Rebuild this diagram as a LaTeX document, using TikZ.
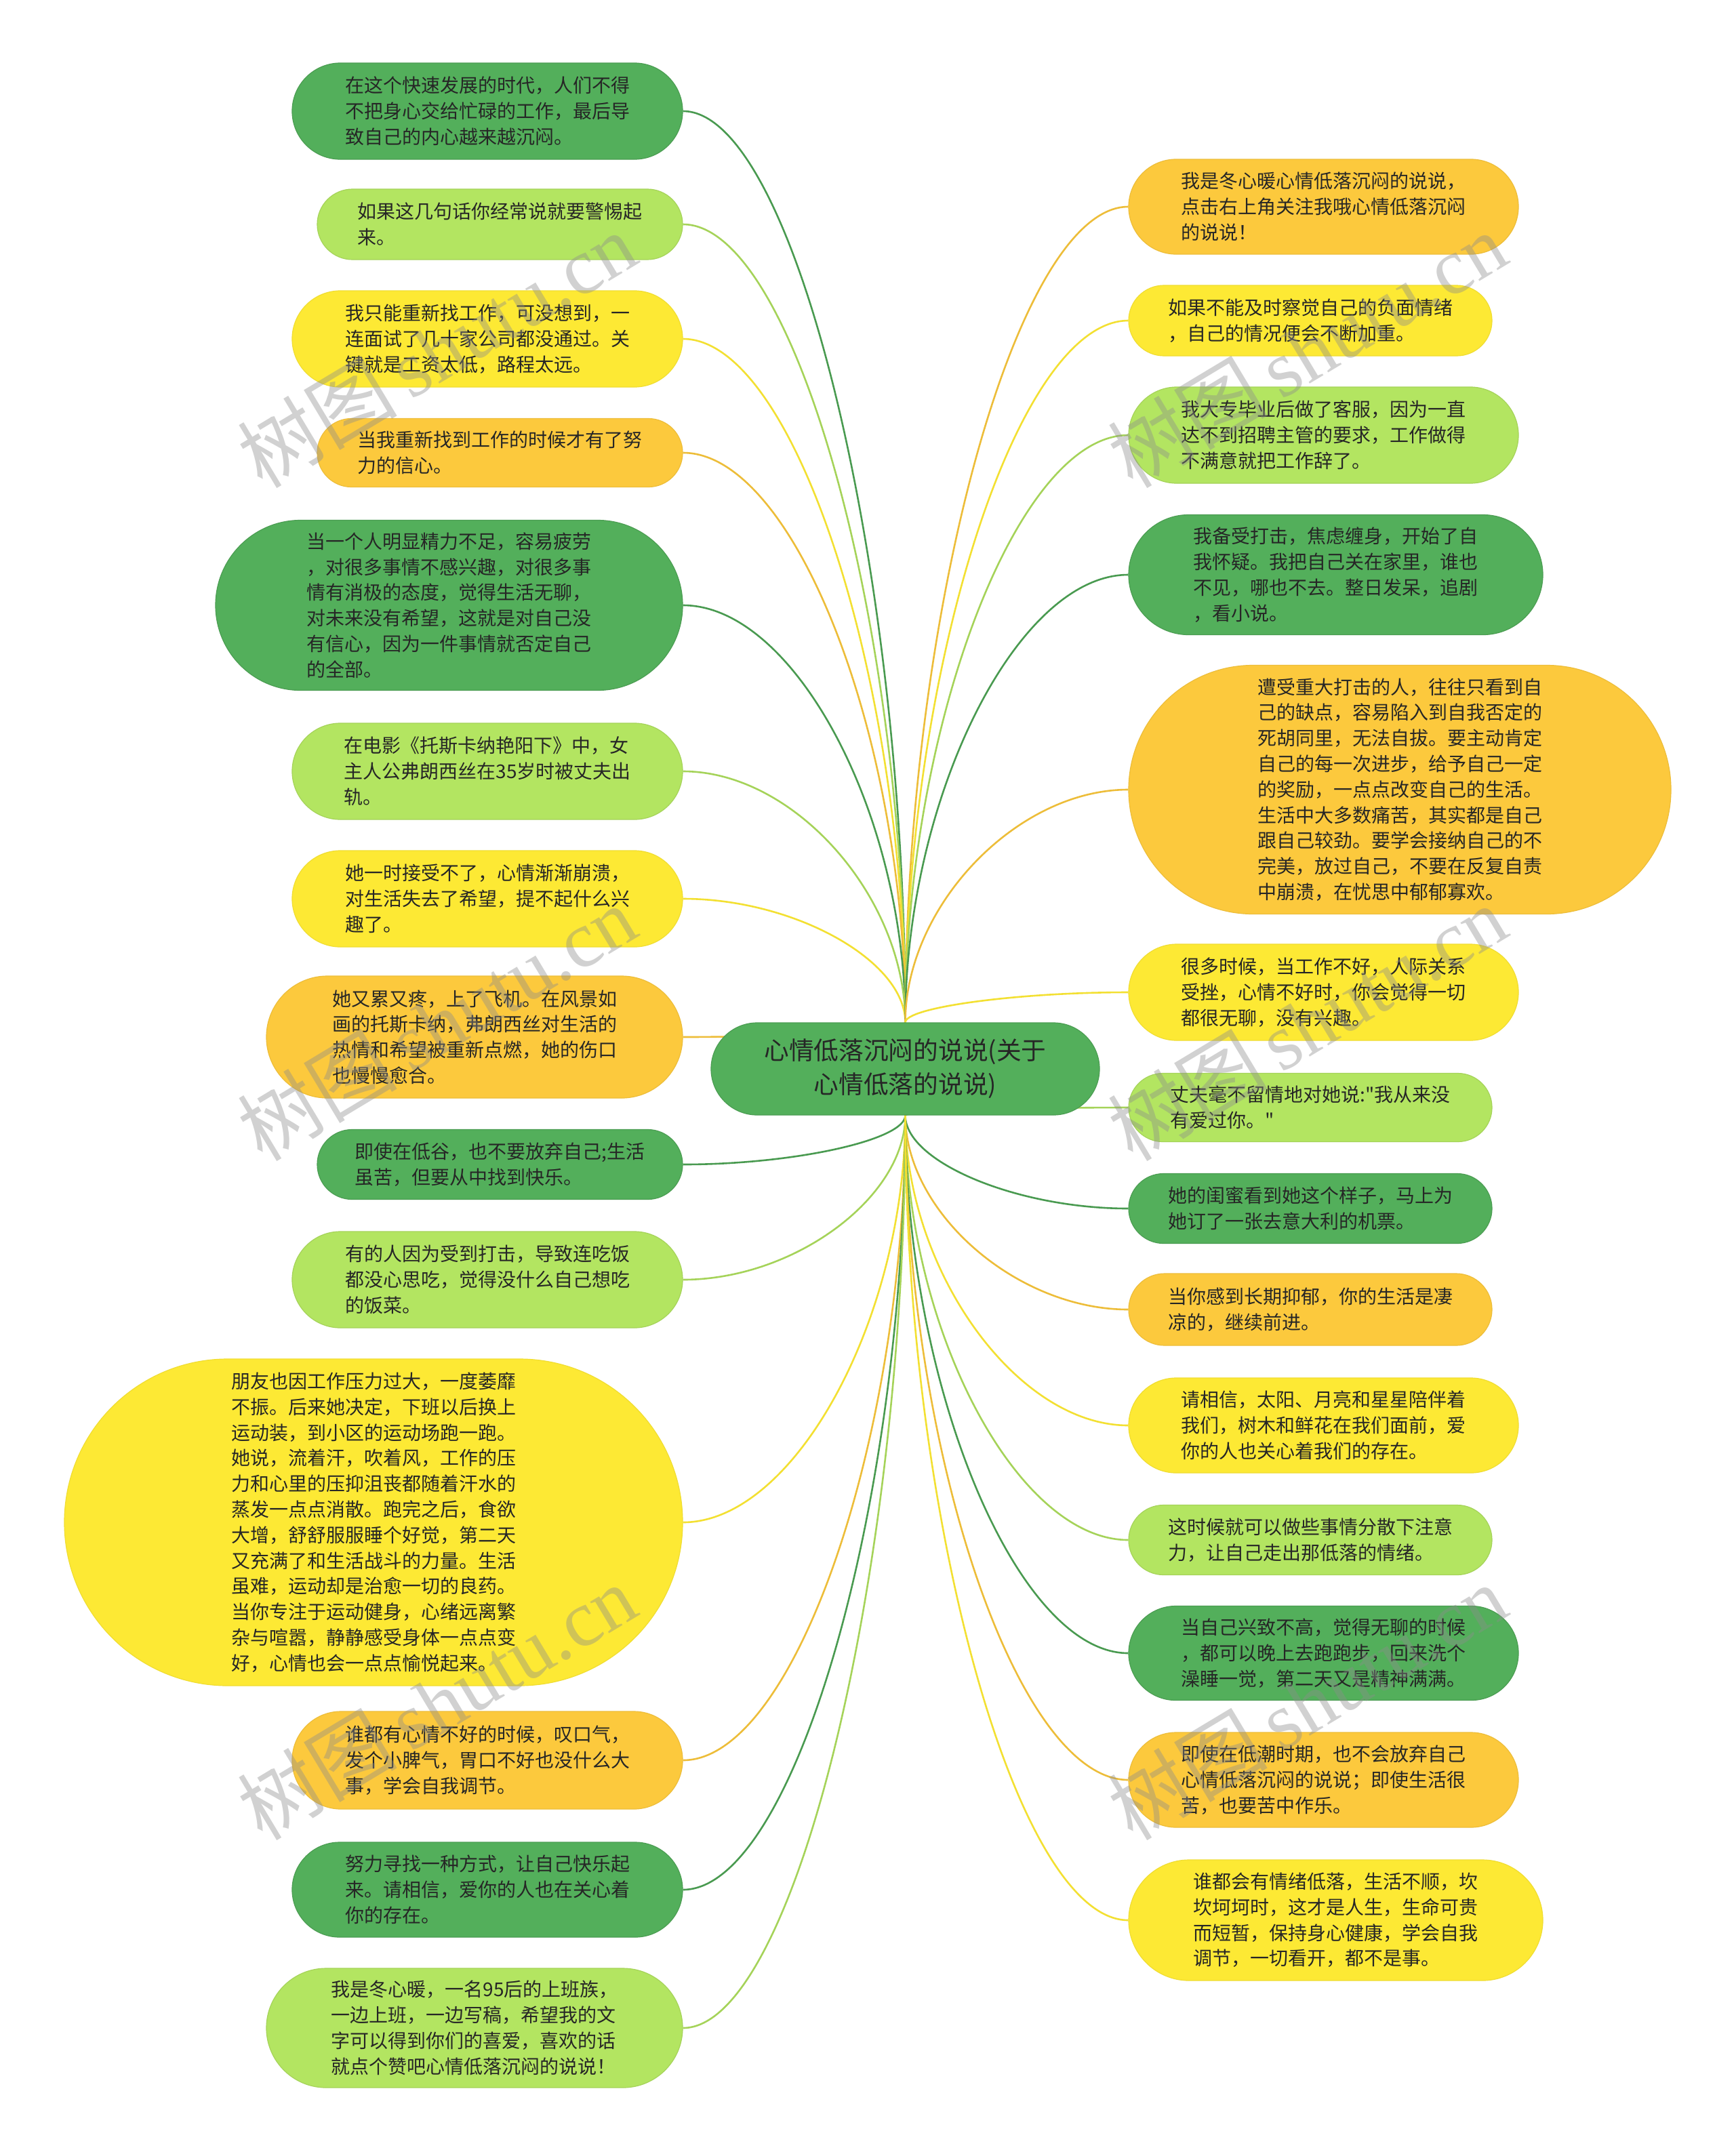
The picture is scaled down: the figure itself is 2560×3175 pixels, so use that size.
\documentclass[tikz,border=0pt]{standalone}
\usepackage{fontspec}
\newfontfamily\cjk{Noto Sans CJK SC}
\setmainfont{Noto Sans CJK SC}
\newfontfamily\wmserif{Liberation Serif}
\usetikzlibrary{shapes.misc,calc}
\definecolor{cDG}{RGB}{83,175,91}
\definecolor{cLG}{RGB}{179,229,97}
\definecolor{cYE}{RGB}{253,233,52}
\definecolor{cOR}{RGB}{252,201,61}
\definecolor{txt}{RGB}{38,38,38}
\definecolor{wmgray}{RGB}{140,140,140}
\pgfdeclarelayer{bg}
\pgfdeclarelayer{fg}
\pgfsetlayers{bg,main,fg}
\newcommand\mmlink[3]{\draw[conn,#3] (#1) .. controls ($(#1)!0.5!(#1|-#2)$) and ($(#2)!0.5!(#2-|#1)$) .. (#2);}
\begin{document}
\begin{tikzpicture}[x=1pt,y=-1pt,
  bub/.style={rounded rectangle, inner sep=0pt, align=left, text=txt,
    font=\cjk\fontsize{28}{37.8}\selectfont, line width=1.2pt},
  dg/.style={bub, fill=cDG, draw=cDG!90!black},
  lg/.style={bub, fill=cLG, draw=cLG!92!black},
  ye/.style={bub, fill=cYE, draw=cYE!95!black},
  or/.style={bub, fill=cOR, draw=cOR!94!black},
  conn/.style={line width=2.6pt},
  lDG/.style={draw=cDG!88!black},
  lLG/.style={draw=cLG!92!black},
  lYE/.style={draw=cYE!96!black},
  lOR/.style={draw=cOR!94!black},
  wm/.style={text=wmgray, opacity=0.4, rotate=31, font=\cjk\fontsize{118}{120}\selectfont, inner sep=0pt}
]
\useasboundingbox (0,0) rectangle (2560,3175);

% centre
\node[dg, minimum width=573pt, minimum height=136pt, align=center, font=\cjk\fontsize{36.7}{50}\selectfont] (c) at (1335.5,1577) {心情低落沉闷的说说(关于\\心情低落的说说)};

% left column
\node[dg, minimum width=576pt, minimum height=142pt] (L1) at (719,164) {在这个快速发展的时代，人们不得\\不把身心交给忙碌的工作，最后导\\致自己的内心越来越沉闷。};
\node[lg, minimum width=539pt, minimum height=104pt] (L2) at (737.5,331) {如果这几句话你经常说就要警惕起\\来。};
\node[ye, minimum width=576pt, minimum height=142pt] (L3) at (719,500) {我只能重新找工作，可没想到，一\\连面试了几十家公司都没通过。关\\键就是工资太低，路程太远。};
\node[or, minimum width=539pt, minimum height=101pt] (L4) at (737.5,668) {当我重新找到工作的时候才有了努\\力的信心。};
\node[dg, minimum width=689pt, minimum height=251pt] (L5) at (662.5,893) {当一个人明显精力不足，容易疲劳\\，对很多事情不感兴趣，对很多事\\情有消极的态度，觉得生活无聊，\\对未来没有希望，这就是对自己没\\有信心，因为一件事情就否定自己\\的全部。};
\node[lg, minimum width=576pt, minimum height=142pt] (L6) at (719,1138) {在电影《托斯卡纳艳阳下》中，女\\主人公弗朗西丝在35岁时被丈夫出\\轨。};
\node[ye, minimum width=576pt, minimum height=142pt] (L7) at (719,1326) {她一时接受不了，心情渐渐崩溃，\\对生活失去了希望，提不起什么兴\\趣了。};
\node[or, minimum width=614pt, minimum height=180pt] (L8) at (700,1530) {她又累又疼，上了飞机。在风景如\\画的托斯卡纳，弗朗西丝对生活的\\热情和希望被重新点燃，她的伤口\\也慢慢愈合。};
\node[dg, minimum width=539pt, minimum height=103pt] (L9) at (737.5,1718) {即使在低谷，也不要放弃自己;生活\\虽苦，但要从中找到快乐。};
\node[lg, minimum width=576pt, minimum height=142pt] (L10) at (719,1888) {有的人因为受到打击，导致连吃饭\\都没心思吃，觉得没什么自己想吃\\的饭菜。};
\node[ye, minimum width=912pt, minimum height=482pt] (L11) at (551,2246) {朋友也因工作压力过大，一度萎靡\\不振。后来她决定，下班以后换上\\运动装，到小区的运动场跑一跑。\\她说，流着汗，吹着风，工作的压\\力和心里的压抑沮丧都随着汗水的\\蒸发一点点消散。跑完之后，食欲\\大增，舒舒服服睡个好觉，第二天\\又充满了和生活战斗的力量。生活\\虽难，运动却是治愈一切的良药。\\当你专注于运动健身，心绪远离繁\\杂与喧嚣，静静感受身体一点点变\\好，心情也会一点点愉悦起来。};
\node[or, minimum width=576pt, minimum height=144pt] (L12) at (719,2597) {谁都有心情不好的时候，叹口气，\\发个小脾气，胃口不好也没什么大\\事，学会自我调节。};
\node[dg, minimum width=576pt, minimum height=140pt] (L13) at (719,2788) {努力寻找一种方式，让自己快乐起\\来。请相信，爱你的人也在关心着\\你的存在。};
\node[lg, minimum width=614pt, minimum height=176pt] (L14) at (700,2992) {我是冬心暖，一名95后的上班族，\\一边上班，一边写稿，希望我的文\\字可以得到你们的喜爱，喜欢的话\\就点个赞吧心情低落沉闷的说说！};

% right column
\node[or, minimum width=575pt, minimum height=140pt] (R1) at (1952.5,305) {我是冬心暖心情低落沉闷的说说，\\点击右上角关注我哦心情低落沉闷\\的说说！};
\node[ye, minimum width=536pt, minimum height=104pt] (R2) at (1933,473) {如果不能及时察觉自己的负面情绪\\，自己的情况便会不断加重。};
\node[lg, minimum width=575pt, minimum height=142pt] (R3) at (1952.5,642) {我大专毕业后做了客服，因为一直\\达不到招聘主管的要求，工作做得\\不满意就把工作辞了。};
\node[dg, minimum width=611pt, minimum height=177pt] (R4) at (1970.5,848) {我备受打击，焦虑缠身，开始了自\\我怀疑。我把自己关在家里，谁也\\不见，哪也不去。整日发呆，追剧\\，看小说。};
\node[or, minimum width=800pt, minimum height=367pt] (R5) at (2065,1165) {遭受重大打击的人，往往只看到自\\己的缺点，容易陷入到自我否定的\\死胡同里，无法自拔。要主动肯定\\自己的每一次进步，给予自己一定\\的奖励，一点点改变自己的生活。\\生活中大多数痛苦，其实都是自己\\跟自己较劲。要学会接纳自己的不\\完美，放过自己，不要在反复自责\\中崩溃，在忧思中郁郁寡欢。};
\node[ye, minimum width=575pt, minimum height=142pt] (R6) at (1952.5,1464) {很多时候，当工作不好，人际关系\\受挫，心情不好时，你会觉得一切\\都很无聊，没有兴趣。};
\node[lg, minimum width=536pt, minimum height=101pt] (R7) at (1933,1634) {丈夫毫不留情地对她说:"我从来没\\有爱过你。"};
\node[dg, minimum width=536pt, minimum height=103pt] (R8) at (1933,1783) {她的闺蜜看到她这个样子，马上为\\她订了一张去意大利的机票。};
\node[or, minimum width=536pt, minimum height=106pt] (R9) at (1933,1932) {当你感到长期抑郁，你的生活是凄\\凉的，继续前进。};
\node[ye, minimum width=575pt, minimum height=140pt] (R10) at (1952.5,2103) {请相信，太阳、月亮和星星陪伴着\\我们，树木和鲜花在我们面前，爱\\你的人也关心着我们的存在。};
\node[lg, minimum width=536pt, minimum height=103pt] (R11) at (1933,2272) {这时候就可以做些事情分散下注意\\力，让自己走出那低落的情绪。};
\node[dg, minimum width=575pt, minimum height=139pt] (R12) at (1952.5,2439) {当自己兴致不高，觉得无聊的时候\\，都可以晚上去跑跑步，回来洗个\\澡睡一觉，第二天又是精神满满。};
\node[or, minimum width=575pt, minimum height=140pt] (R13) at (1952.5,2626) {即使在低潮时期，也不会放弃自己\\心情低落沉闷的说说；即使生活很\\苦，也要苦中作乐。};
\node[ye, minimum width=611pt, minimum height=178pt] (R14) at (1970.5,2833) {谁都会有情绪低落，生活不顺，坎\\坎坷坷时，这才是人生，生命可贵\\而短暂，保持身心健康，学会自我\\调节，一切看开，都不是事。};

\begin{pgfonlayer}{bg}
\fill[white] (0,0) rectangle (2560,3175);
\mmlink{c.north}{L1.east}{lDG}
\mmlink{c.north}{L2.east}{lLG}
\mmlink{c.north}{L3.east}{lYE}
\mmlink{c.north}{L4.east}{lOR}
\mmlink{c.north}{L5.east}{lDG}
\mmlink{c.north}{L6.east}{lLG}
\mmlink{c.north}{L7.east}{lYE}
\mmlink{c.north}{L8.east}{lOR}
\mmlink{c.south}{L9.east}{lDG}
\mmlink{c.south}{L10.east}{lLG}
\mmlink{c.south}{L11.east}{lYE}
\mmlink{c.south}{L12.east}{lOR}
\mmlink{c.south}{L13.east}{lDG}
\mmlink{c.south}{L14.east}{lLG}
\mmlink{c.north}{R1.west}{lOR}
\mmlink{c.north}{R2.west}{lYE}
\mmlink{c.north}{R3.west}{lLG}
\mmlink{c.north}{R4.west}{lDG}
\mmlink{c.north}{R5.west}{lOR}
\mmlink{c.north}{R6.west}{lYE}
\mmlink{c.south}{R7.west}{lLG}
\mmlink{c.south}{R8.west}{lDG}
\mmlink{c.south}{R9.west}{lOR}
\mmlink{c.south}{R10.west}{lYE}
\mmlink{c.south}{R11.west}{lLG}
\mmlink{c.south}{R12.west}{lDG}
\mmlink{c.south}{R13.west}{lOR}
\mmlink{c.south}{R14.west}{lYE}
\end{pgfonlayer}

\begin{pgfonlayer}{fg}
\node[wm] (w1) at (644,516) {树图\,{\wmserif shutu.cn}};
\node[wm] (w2) at (644,1509) {树图\,{\wmserif shutu.cn}};
\node[wm] (w3) at (644,2511) {树图\,{\wmserif shutu.cn}};
\node[wm] (w4) at (1928,516) {树图\,{\wmserif shutu.cn}};
\node[wm] (w5) at (1928,1509) {树图\,{\wmserif shutu.cn}};
\node[wm] (w6) at (1928,2511) {树图\,{\wmserif shutu.cn}};
\end{pgfonlayer}
\end{tikzpicture}
\end{document}
